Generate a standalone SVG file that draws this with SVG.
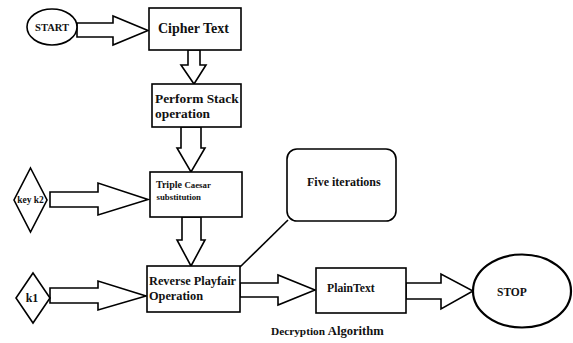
<svg xmlns="http://www.w3.org/2000/svg" width="573" height="343" viewBox="0 0 573 343">
<style>
.s{fill:#fff;stroke:#000;stroke-width:1.6;stroke-linejoin:miter}
.t{font-family:"Liberation Serif","Times New Roman",serif;font-weight:bold;fill:#111}
.c{fill:#fff;stroke:#000;stroke-width:1.6;stroke-linejoin:miter}
</style>
<rect width="573" height="343" fill="#fff"/>
<g id="connectors">
<polygon class="c" points="77,23 113,23 113,16 148,30.5 113,45 113,37 77,37"/>
<polygon class="c" points="188,50 200,50 200,65 206,65 194,84 181,65 188,65"/>
<polygon class="c" points="181,127 201,127 201,148 205,148 191,172 177,148 181,148"/>
<polygon class="c" points="182,217 201,217 201,240 205,240 191,266 177,240 182,240"/>
<polygon class="c" points="50,192 98,192 98,183 148,199.5 98,215 98,207 50,207"/>
<polygon class="c" points="50,288 98,288 98,281 146,296 98,310 98,303 50,303"/>
<polygon class="c" points="240,283 278,283 278,275 315,290 278,305 278,297 240,297"/>
<polygon class="c" points="406,283 441,283 441,274 473,291 441,309 441,299 406,299"/>
<line x1="240" y1="267" x2="288" y2="220" stroke="#000" stroke-width="1.6"/>
</g>
<g id="start">
<ellipse class="s" cx="52" cy="27" rx="25" ry="18"/>
<text class="t" x="52" y="31" font-size="10.5" text-anchor="middle">START</text>
</g>
<g id="cipher-text">
<rect class="s" x="149" y="8" width="92" height="42"/>
<text class="t" x="158" y="32.5" font-size="14">Cipher Text</text>
</g>
<g id="perform-stack">
<rect class="s" x="152" y="84" width="89" height="43"/>
<text class="t" x="155" y="102.5" font-size="13.4">Perform Stack</text>
<text class="t" x="155" y="117.5" font-size="13.4">operation</text>
</g>
<g id="triple-caesar">
<rect class="s" x="150" y="172" width="92" height="45"/>
<text class="t" x="156" y="188" font-size="10">Triple <tspan font-size="8.8">Caesar</tspan></text>
<text class="t" x="156.5" y="200" font-size="8.8">substitution</text>
</g>
<g id="key-k2">
<polygon class="s" points="30.5,168 47,200 30.5,232 14,200"/>
<text class="t" x="30.5" y="203" font-size="9.5" text-anchor="middle">key k2</text>
</g>
<g id="k1">
<polygon class="s" points="33,273 50,298 33,323 16,298"/>
<text class="t" x="32" y="302" font-size="12" text-anchor="middle">k1</text>
</g>
<g id="reverse-playfair">
<rect class="s" x="147" y="266" width="93" height="46"/>
<text class="t" x="149" y="285" font-size="12.3">Reverse Playfair</text>
<text class="t" x="149" y="299.5" font-size="12.3">Operation</text>
</g>
<g id="five-iterations">
<rect class="s" x="287" y="149" width="109" height="72" rx="10"/>
<text class="t" x="307" y="186" font-size="12">Five iterations</text>
</g>
<g id="plaintext">
<rect class="s" x="316" y="268" width="90" height="45"/>
<text class="t" x="327" y="292" font-size="11.7">PlainText</text>
</g>
<g id="stop">
<ellipse cx="522" cy="291" rx="49" ry="36.5" fill="#fff" stroke="#000" stroke-width="2.2"/>
<text class="t" x="497" y="296" font-size="11.5">STOP</text>
</g>
<g id="caption">
<text class="t" x="271" y="334.5" font-size="11.3">Decryption <tspan font-size="12.6">Algorithm</tspan></text>
</g>
</svg>
